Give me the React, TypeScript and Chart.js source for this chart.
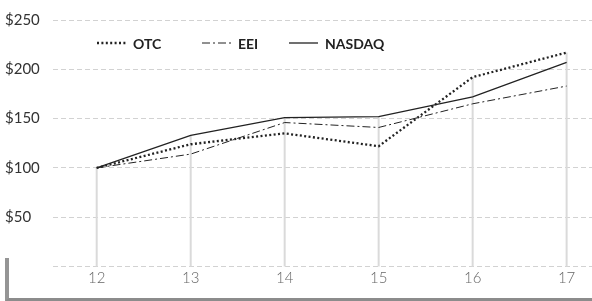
import React, { useEffect, useRef } from "react";
import { Chart, registerables } from "chart.js";

Chart.register(...registerables);

const categories = [12, 13, 14, 15, 16, 17];
const otcValues = [100, 124, 135, 122, 192, 217];
const eeiValues = [100, 114, 146, 141, 165, 183];
const nasdaqValues = [100, 133, 151, 152, 172, 207];
const seriesLabels = ["OTC", "EEI", "NASDAQ"];
const yTickValues = [0, 50, 100, 150, 200, 250];

const FONT = "Lato, 'Open Sans', sans-serif";
const INK = "#222222";

const dropLinePlugin = {
  id: "dropLines",
  beforeDatasetsDraw(chart: any) {
    const ctx = chart.ctx;
    const xs = chart.scales.x;
    const ys = chart.scales.y;
    const bottom = Math.min(ys.getPixelForValue(0), chart.chartArea.bottom);
    ctx.save();
    ctx.strokeStyle = "#dadada";
    ctx.lineWidth = 2;
    ctx.lineCap = "butt";
    categories.forEach((c, i) => {
      const top = Math.max(otcValues[i], eeiValues[i], nasdaqValues[i]);
      const px = xs.getPixelForValue(c);
      ctx.beginPath();
      ctx.moveTo(px, ys.getPixelForValue(top));
      ctx.lineTo(px, bottom);
      ctx.stroke();
    });
    ctx.restore();
  },
};

const legendPlugin = {
  id: "insideLegend",
  afterDraw(chart: any) {
    const ctx = chart.ctx;
    const starts = [97, 202, 289];
    const y = 43;
    ctx.save();
    chart.data.datasets.forEach((ds: any, i: number) => {
      const x0 = starts[i];
      ctx.beginPath();
      ctx.setLineDash(ds.borderDash || []);
      ctx.lineWidth = ds.borderWidth;
      ctx.strokeStyle = ds.borderColor;
      ctx.moveTo(x0, y);
      ctx.lineTo(x0 + 29, y);
      ctx.stroke();
      ctx.setLineDash([]);
      ctx.fillStyle = INK;
      ctx.font = `bold 14px ${FONT}`;
      ctx.textBaseline = "middle";
      ctx.textAlign = "left";
      ctx.fillText(ds.label, x0 + 36, y + 1);
    });
    ctx.restore();
  },
};

export default function App() {
  const ref = useRef<HTMLCanvasElement | null>(null);

  useEffect(() => {
    if (!ref.current) return;
    const toPoints = (vals: number[]) =>
      categories.map((c, i) => ({ x: c, y: vals[i] }));
    const chart = new Chart(ref.current, {
      type: "line",
      data: {
        datasets: [
          {
            label: seriesLabels[0],
            data: toPoints(otcValues),
            borderColor: INK,
            borderWidth: 2.3,
            borderDash: [2, 2.4],
            borderCapStyle: "butt",
            pointRadius: 0,
            tension: 0,
          },
          {
            label: seriesLabels[1],
            data: toPoints(eeiValues),
            borderColor: INK,
            borderWidth: 1,
            borderDash: [8, 3, 2, 3],
            pointRadius: 0,
            tension: 0,
          },
          {
            label: seriesLabels[2],
            data: toPoints(nasdaqValues),
            borderColor: INK,
            borderWidth: 1.3,
            pointRadius: 0,
            tension: 0,
          },
        ],
      },
      options: {
        animation: false,
        responsive: false,
        maintainAspectRatio: false,
        layout: { padding: { left: 5, top: 20, right: 0, bottom: 0 } },
        plugins: {
          legend: { display: false },
          tooltip: { enabled: false },
        },
        scales: {
          x: {
            type: "linear",
            min: 11.535,
            max: 17.27,
            offset: false,
            afterFit: (s: any) => {
              s.height = 23.5;
              s.paddingLeft = 0;
              s.paddingRight = 0;
            },
            afterBuildTicks: (s: any) => {
              s.ticks = categories.map((c) => ({ value: c }));
            },
            grid: { display: false, drawTicks: false },
            border: { display: false },
            ticks: {
              padding: 3,
              color: "#666666",
              font: { family: FONT, size: 15, weight: "300" },
              callback: (v: any) => String(v),
            },
          },
          y: {
            type: "linear",
            min: 0,
            max: 250,
            afterFit: (s: any) => {
              s.width = 48;
            },
            afterBuildTicks: (s: any) => {
              s.ticks = yTickValues.map((v) => ({ value: v }));
            },
            grid: {
              color: "#d2d2d2",
              lineWidth: 1,
              drawTicks: false,
            },
            border: { display: false, dash: [5, 3] },
            ticks: {
              crossAlign: "far",
              color: "#333333",
              font: { family: FONT, size: 15 },
              callback: (v: any) => (v === 0 ? "" : "$" + v),
            },
          },
        },
      } as any,
      plugins: [dropLinePlugin, legendPlugin],
    });
    return () => chart.destroy();
  }, []);

  return (
    <div
      style={{
        position: "fixed",
        left: 0,
        top: 0,
        width: 592,
        height: 301,
        background: "#ffffff",
        overflow: "hidden",
      }}
    >
      <canvas
        ref={ref}
        width={592}
        height={290}
        style={{ position: "absolute", left: 0, top: 0, width: 592, height: 290 }}
      />
      <div
        style={{
          position: "absolute",
          left: 5,
          top: 258,
          width: 583,
          height: 40,
          borderLeft: "4px solid #959595",
          borderBottom: "3px solid #8c8c8c",
        }}
      />
    </div>
  );
}
